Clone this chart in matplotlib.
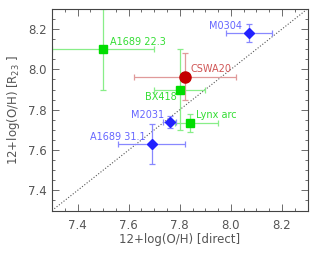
#!/usr/bin/env python3

import matplotlib
matplotlib.use('Agg')

import matplotlib.pyplot as plt
from matplotlib.ticker import MultipleLocator

# direct-method vs R23 abundances
NAMES = ['A1689 22.3', 'BX418', 'Lynx arc', 'M0304', 'M2031', 'A1689 31.1', 'CSWA20']
X_DIRECT = [7.50, 7.80, 7.84, 8.07, 7.76, 7.69, 7.82]
X_ERR_LO = [0.20, 0.10, 0.06, 0.09, 0.025, 0.13, 0.20]
X_ERR_HI = [0.20, 0.10, 0.11, 0.09, 0.025, 0.13, 0.20]
Y_R23 = [8.10, 7.90, 7.735, 8.18, 7.74, 7.63, 7.96]
Y_ERR_LO = [0.20, 0.20, 0.045, 0.045, 0.03, 0.10, 0.11]
Y_ERR_HI = [0.20, 0.20, 0.045, 0.045, 0.03, 0.10, 0.12]
GROUP = ['green', 'green', 'green', 'blue', 'blue', 'blue', 'red']

STYLE = {
    'green': {'marker': 's', 'mc': '#00dd00', 'ec': '#88ee88', 'tc': '#33dd33', 'ms': 5.5},
    'blue': {'marker': 'D', 'mc': '#2222ff', 'ec': '#8888ff', 'tc': '#6666ff', 'ms': 5.5},
    'red': {'marker': 'o', 'mc': '#c40000', 'ec': '#e09a9a', 'tc': '#d05555', 'ms': 8},
}

# label offsets in points (dx, dy, ha)
LABEL_POS = {
    'A1689 22.3': (5, 5, 'left'),
    'BX418': (-2, -5, 'right'),
    'Lynx arc': (4, 6, 'left'),
    'M0304': (-5, 5, 'right'),
    'M2031': (-4, 5, 'right'),
    'A1689 31.1': (-4, 5, 'right'),
    'CSWA20': (4, 6, 'left'),
}

fig = plt.figure(figsize=(3.19, 2.54), dpi=100)
ax = fig.add_axes([0.163, 0.171, 0.801, 0.794])

ax.plot([7.3, 8.3], [7.3, 8.3], ls=':', color='#555555', lw=0.8, zorder=1)

for i, name in enumerate(NAMES):
    st = STYLE[GROUP[i]]
    ax.errorbar(X_DIRECT[i], Y_R23[i],
                xerr=[[X_ERR_LO[i]], [X_ERR_HI[i]]],
                yerr=[[Y_ERR_LO[i]], [Y_ERR_HI[i]]],
                fmt='none', ecolor=st['ec'], elinewidth=0.9,
                capsize=2, capthick=0.9, zorder=2)
    ax.plot(X_DIRECT[i], Y_R23[i], marker=st['marker'], color=st['mc'],
            ms=st['ms'], ls='none', zorder=3)
    dx, dy, ha = LABEL_POS[name]
    ax.annotate(name, (X_DIRECT[i], Y_R23[i]), xytext=(dx, dy),
                textcoords='offset points', ha=ha, va='center',
                fontsize=7, color=st['tc'], zorder=4)

ax.set_xlim(7.3, 8.3)
ax.set_ylim(7.3, 8.3)
ax.xaxis.set_major_locator(MultipleLocator(0.2))
ax.yaxis.set_major_locator(MultipleLocator(0.2))
ax.xaxis.set_minor_locator(MultipleLocator(0.05))
ax.yaxis.set_minor_locator(MultipleLocator(0.05))
ax.tick_params(which='both', direction='in', top=True, right=True,
               color='#555555', labelcolor='#555555', labelsize=8.5)
ax.tick_params(which='major', length=5, width=0.6)
ax.tick_params(which='minor', length=2.5, width=0.6)
ax.tick_params(axis='x', which='major', pad=6)
ax.tick_params(axis='y', which='major', pad=4)
for sp in ax.spines.values():
    sp.set_color('#444444')
    sp.set_linewidth(0.8)

ax.set_xlabel('12+log(O/H) [direct]', fontsize=8.5, color='#555555', labelpad=1)
ax.set_ylabel('12+log(O/H) [R$_{23}$ ]', fontsize=8.5, color='#555555', labelpad=4)

fig.savefig('out.png', dpi=100)
